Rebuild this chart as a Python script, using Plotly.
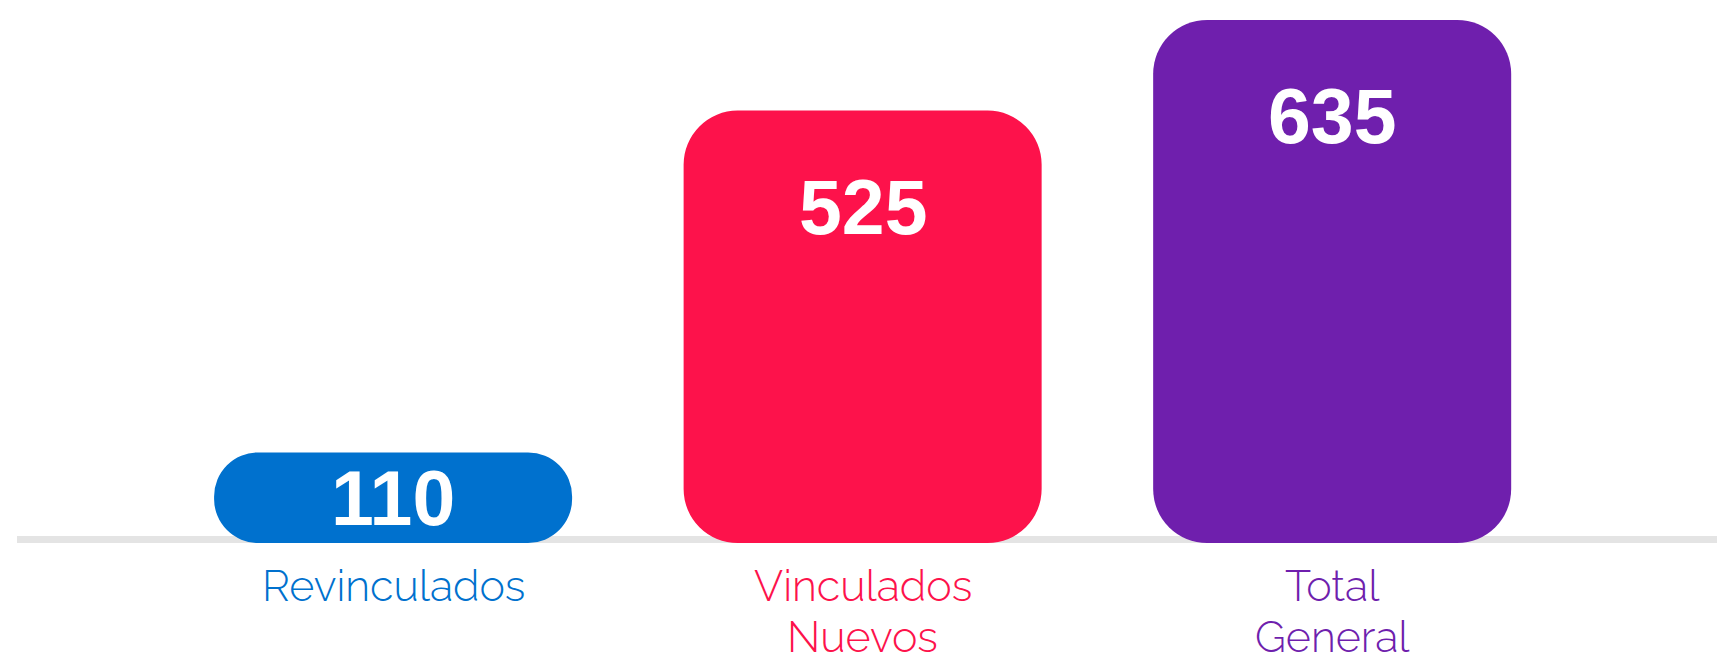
import plotly.graph_objects as go

# ---- data ----
categories = ["Revinculados", "Vinculados Nuevos", "Total General"]
values = [110, 525, 635]
colors = ["#0071ce", "#fd124b", "#6f1fad"]

# ---- layout constants ----
W, H = 1717, 661
M_TOP, M_BOTTOM, M_LEFT, M_RIGHT = 20, 118, 17, 0
plot_h = H - M_TOP - M_BOTTOM
ymax = max(values)
px_per_unit = plot_h / ymax
radius = 54
bar_w = 0.7625

fig = go.Figure()

# one bar per category; an explicit base makes Plotly round all four corners
for cat, v, col in zip(categories, values, colors):
    bar_len_px = v * px_per_unit
    r = int(min(radius, bar_len_px / 2 - 1))
    fig.add_trace(go.Bar(
        x=[cat], y=[v], base=[0],
        width=bar_w,
        marker=dict(color=col, cornerradius=r, line=dict(width=0)),
        hovertemplate="%{x}: %{y}<extra></extra>",
        name=cat,
    ))

annotations = []
# value labels inside the bars
for cat, v in zip(categories, values):
    yc = max(v - 96 / px_per_unit, v / 2)
    annotations.append(dict(
        x=cat, y=yc, xref="x", yref="y", text=f"<b>{v}</b>", showarrow=False,
        yanchor="middle", xanchor="center",
        font=dict(family="Liberation Sans, Arial, sans-serif", size=77, color="white"),
    ))

# category labels under the baseline
line_h = 51
for cat, col in zip(categories, colors):
    for i, word in enumerate(cat.split(" ")):
        annotations.append(dict(
            x=cat, y=0, xref="x", yref="y", text=word, showarrow=False,
            yanchor="top", xanchor="center", yshift=-17 - i * line_h,
            borderpad=0,
            font=dict(family="Raleway, Inter, Lato, sans-serif", size=43, color=col, weight=300),
        ))

fig.update_layout(
    width=W, height=H,
    margin=dict(l=M_LEFT, r=M_RIGHT, t=M_TOP, b=M_BOTTOM, pad=0),
    barmode="overlay",
    showlegend=False,
    paper_bgcolor="white",
    plot_bgcolor="white",
    xaxis=dict(range=[-0.801, 2.8196], showticklabels=False, showgrid=False,
               zeroline=False, showline=False, ticks=""),
    yaxis=dict(range=[0, ymax], visible=False, showgrid=False, zeroline=False),
    annotations=annotations,
    shapes=[dict(
        type="rect", xref="paper", x0=0, x1=1,
        yref="y", ysizemode="pixel", yanchor=0, y0=0, y1=7,
        fillcolor="#e4e4e4", line=dict(width=0), layer="below",
    )],
)

fig.write_html("out.html", config={"displayModeBar": False},
               post_script="document.body.style.margin='0';")
